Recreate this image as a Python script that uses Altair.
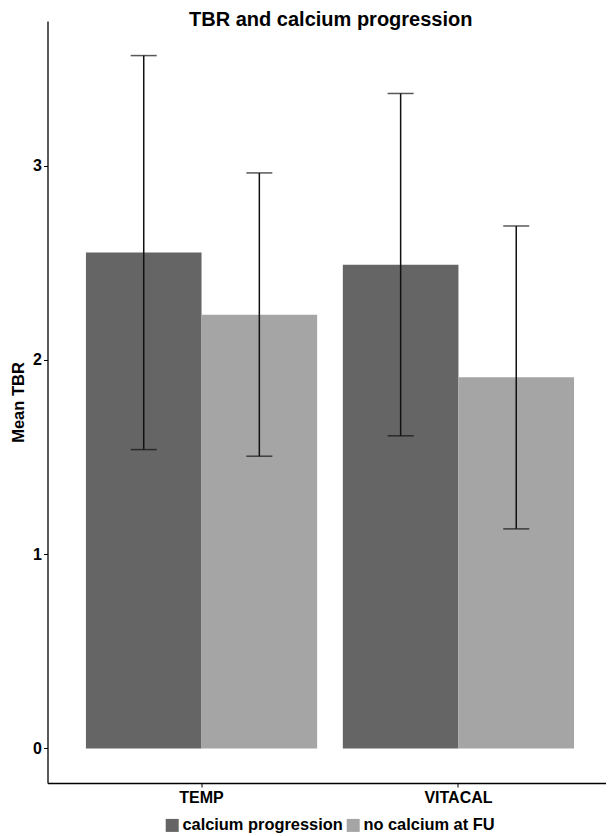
import altair as alt
import pandas as pd

groups = ["TEMP", "TEMP", "VITACAL", "VITACAL"]
status = ["calcium progression", "no calcium at FU", "calcium progression", "no calcium at FU"]
mean_tbr = [2.552, 2.232, 2.489, 1.911]
lower = [1.538, 1.504, 1.609, 1.130]
upper = [3.566, 2.962, 3.371, 2.689]

status_order = ["calcium progression", "no calcium at FU"]
fill_colors = ["#656565", "#a5a5a5"]
y_ticks = [0, 1, 2, 3]

df = pd.DataFrame({"group": groups, "status": status, "mean": mean_tbr,
                   "lower": lower, "upper": upper})

FONT = "Liberation Sans"

x_enc = alt.X("group:N", title=None,
              scale=alt.Scale(paddingInner=0.1, paddingOuter=0.137, align=0.546),
              axis=alt.Axis(labelAngle=0, labelFontSize=16, labelFontWeight="bold",
                            labelColor="black", tickSize=4, labelPadding=2,
                            domainColor="black", tickColor="black", domainWidth=1.3))
xo_enc = alt.XOffset("status:N", sort=status_order,
                     scale=alt.Scale(paddingInner=0, paddingOuter=0))
y_scale = alt.Scale(domain=[-0.178, 3.744], nice=False, zero=False)

bars = alt.Chart(df).mark_bar().encode(
    x=x_enc,
    xOffset=xo_enc,
    y=alt.Y("mean:Q", title="Mean TBR", scale=y_scale,
            axis=alt.Axis(values=y_ticks, format="d", grid=False, labelFontSize=16,
                          labelFontWeight="bold",
                          labelColor="black", tickSize=4, labelPadding=2,
                          domainColor="black", tickColor="black", domainWidth=1.3,
                          titleFontSize=16.5, titleFontWeight="bold", titleColor="black",
                          titleX=-21)),
    y2=alt.datum(0),
    color=alt.Color("status:N", sort=status_order,
                    scale=alt.Scale(domain=status_order, range=fill_colors),
                    legend=alt.Legend(title=None, orient="none", direction="horizontal",
                                      legendX=116.5, legendY=796, symbolType="square",
                                      symbolSize=169, symbolStrokeWidth=0, labelFontSize=16.4,
                                      labelFontWeight="bold", labelColor="black", labelOffset=2,
                                      labelLimit=400, columnPadding=2, padding=0)),
)

rules = alt.Chart(df).mark_rule(color="#111111", strokeWidth=1.5).encode(
    x=x_enc, xOffset=xo_enc,
    y=alt.Y("lower:Q", scale=y_scale), y2="upper:Q",
)
caps_hi = alt.Chart(df).mark_tick(color="#111111", thickness=1.5, size=26, orient="horizontal").encode(
    x=x_enc, xOffset=xo_enc, y=alt.Y("upper:Q", scale=y_scale),
)
caps_lo = alt.Chart(df).mark_tick(color="#111111", thickness=1.5, size=26, orient="horizontal").encode(
    x=x_enc, xOffset=xo_enc, y=alt.Y("lower:Q", scale=y_scale),
)

chart = alt.layer(bars, rules, caps_hi, caps_lo).properties(
    width=558.5, height=762,
    title=alt.Title("TBR and calcium progression", fontSize=20, fontWeight="bold",
                    font=FONT, color="black", anchor="middle", offset=-9, dx=4),
    autosize=alt.AutoSizeParams(type="none"),
    padding={"left": 39.5, "top": 13, "right": 0, "bottom": 51},
).configure(font=FONT).configure_view(stroke=None)

chart.save("out.html", embed_options={"renderer": "svg", "actions": False})
